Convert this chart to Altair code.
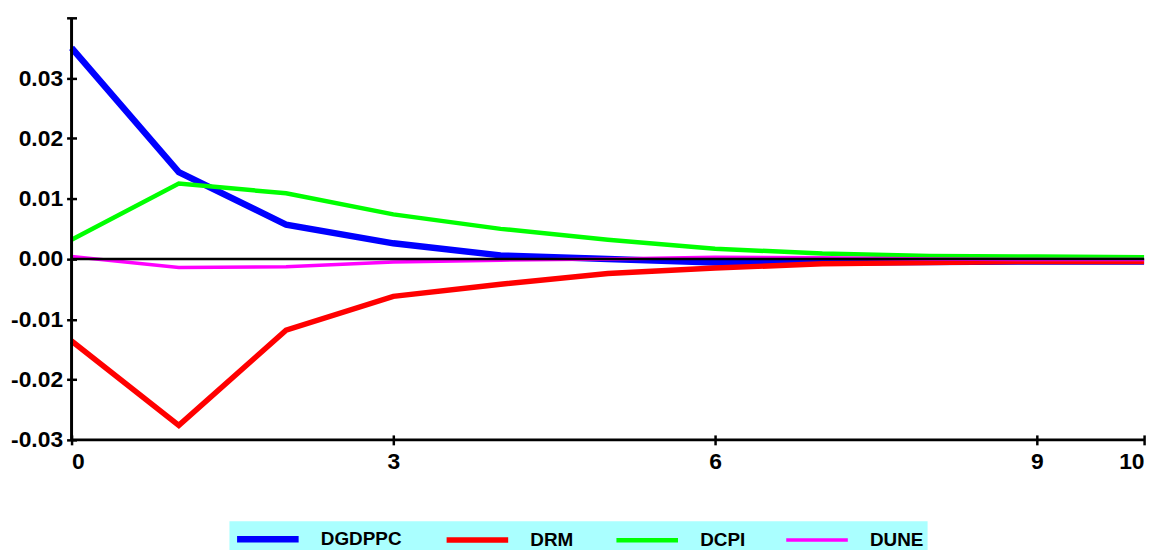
import altair as alt
import pandas as pd

# ---- data ----
steps = [0, 1, 2, 3, 4, 5, 6, 7, 8, 9, 10]
series_names = ["DGDPPC", "DRM", "DCPI", "DUNE"]
dgdppc = [0.0350, 0.0144, 0.0057, 0.0026, 0.0006, 0.0000, -0.0006, -0.0006, -0.0005, -0.0004, -0.0004]
drm = [-0.0136, -0.0276, -0.0118, -0.0062, -0.0042, -0.0024, -0.0015, -0.0008, -0.0006, -0.0004, -0.0004]
dcpi = [0.0032, 0.0125, 0.0109, 0.0074, 0.0050, 0.0032, 0.0017, 0.0009, 0.0005, 0.0004, 0.0003]
dune = [0.0004, -0.0014, -0.0013, -0.0005, -0.0002, 0.0000, 0.0003, 0.0002, 0.0000, -0.0001, -0.0001]
x_tick_values = [0, 3, 6, 9, 10]
y_tick_values = [-0.03, -0.025, -0.02, -0.015, -0.01, -0.005, 0.0, 0.005, 0.01, 0.015, 0.02, 0.025, 0.03, 0.035, 0.04]

line_colors = ["#0000ff", "#ff0000", "#00ff00", "#ff00ff"]
line_widths = [6.5, 3.5, 2.5, 2]

rows = []
for name, vals in zip(series_names, [dgdppc, drm, dcpi, dune]):
    for s, v in zip(steps, vals):
        rows.append({"step": s, "value": v, "series": name})
df = pd.DataFrame(rows)

FONT = "Liberation Sans"

x_scale = alt.Scale(domain=[0, 10], nice=False, zero=False)
y_scale = alt.Scale(domain=[-0.03, 0.04], nice=False, zero=False)

legend = alt.Legend(
    title=None,
    orient="none",
    legendX=159,
    legendY=507,
    direction="horizontal",
    columns=4,
    symbolType="M-1,0H5",
    symbolSize=427,
    labelFont=FONT,
    labelFontSize=19,
    labelFontWeight="bold",
    labelColor="black",
    labelOffset=60,
    columnPadding=33,
    padding=4,
    fillColor="#aaffff",
    labelLimit=300,
)

y_label_expr = (
    "(abs(datum.value*100 - round(datum.value*100)) < 0.01 && datum.value < 0.035) ? "
    "replace(format(datum.value, '.2f'), '\u2212', '-') : ''"
)

lines = alt.Chart(df).mark_line(strokeJoin="miter").encode(
    x=alt.X(
        "step:Q",
        scale=x_scale,
        axis=alt.Axis(
            values=x_tick_values, title=None, format="d", domain=False,
            offset=-5, tickSize=10, tickWidth=2.5, tickColor="black",
            labelFont=FONT, labelFontSize=23, labelFontWeight="bold", labelColor="black",
            labelPadding=6, grid=False,
        ),
    ),
    y=alt.Y(
        "value:Q",
        scale=y_scale,
        axis=alt.Axis(
            values=y_tick_values, title=None, labelExpr=y_label_expr, domain=False,
            offset=-5, tickSize=10, tickWidth=2.5, tickColor="black",
            labelFont=FONT, labelFontSize=23, labelFontWeight="bold", labelColor="black",
            labelPadding=4, grid=False,
        ),
    ),
    color=alt.Color("series:N", scale=alt.Scale(domain=series_names, range=line_colors), legend=legend),
    strokeWidth=alt.StrokeWidth("series:N", scale=alt.Scale(domain=series_names, range=line_widths), legend=legend),
)

y_axis_line = alt.Chart().mark_rule(color="black", strokeWidth=3).encode(x=alt.datum(0))
x_axis_line = alt.Chart().mark_rule(color="black", strokeWidth=3).encode(y=alt.datum(-0.03))
zero_line = alt.Chart().mark_rule(color="black", strokeWidth=2.5).encode(y=alt.datum(0))

chart = alt.layer(lines, zero_line, y_axis_line, x_axis_line).properties(
    width=1080,
    height=425,
    autosize="none",
    padding={"left": 64, "top": 8, "right": 12, "bottom": 109},
    background="white",
).configure_view(stroke=None)

chart.save("out.html", embed_options={"renderer": "svg", "actions": False})
